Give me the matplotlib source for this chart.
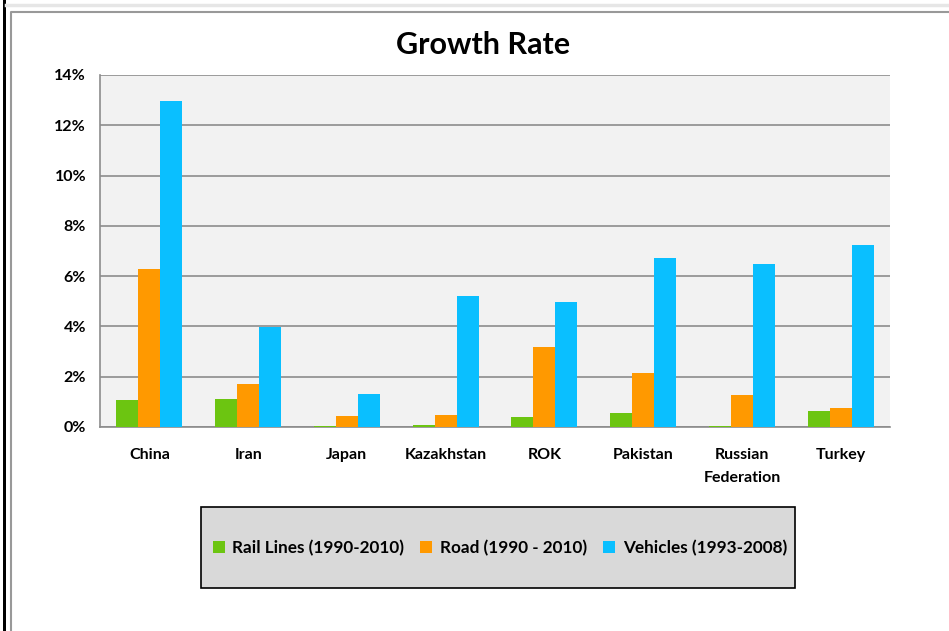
import numpy as np
import matplotlib.pyplot as plt
from matplotlib.patches import Rectangle
from matplotlib.lines import Line2D
from matplotlib.ticker import FuncFormatter

plt.rcParams['font.family'] = ['Lato', 'DejaVu Sans']

countries = ["China", "Iran", "Japan", "Kazakhstan", "ROK", "Pakistan",
             "Russian\nFederation", "Turkey"]
rail = [1.08, 1.12, 0.04, 0.08, 0.40, 0.56, 0.04, 0.64]
road = [6.28, 1.72, 0.44, 0.48, 3.18, 2.16, 1.27, 0.76]
vehicles = [12.96, 3.98, 1.32, 5.22, 4.98, 6.72, 6.48, 7.22]
series_names = ["Rail Lines (1990-2010)", "Road (1990 - 2010)", "Vehicles (1993-2008)"]
colors = ["#6CC511", "#FF9900", "#0ABFFF"]

W, H = 949, 631
fig = plt.figure(figsize=(W / 100, H / 100), dpi=100)

# page decorations around the embedded chart
fig.add_artist(Rectangle((3 / W, 0), 3 / W, 1, transform=fig.transFigure,
                         facecolor="black", edgecolor="none"))
fig.add_artist(Line2D([6 / W, 1], [1 - 5 / H, 1 - 5 / H], transform=fig.transFigure,
                      color="#E6E6E6", lw=2.5))
fig.add_artist(Line2D([11 / W, 11 / W, 1], [0, 1 - 12 / H, 1 - 12 / H],
                      transform=fig.transFigure, color="#999999", lw=1.5))

ax = fig.add_axes([100 / W, 1 - 427 / H, 790 / W, 352 / H])
ax.set_facecolor("#F2F2F2")

x = np.arange(len(countries))
w = 0.223
for i, (vals, c, name) in enumerate(zip([rail, road, vehicles], colors, series_names)):
    ax.bar(x + (i - 1) * w, vals, width=w, color=c, label=name, zorder=3)

ax.set_xlim(-0.5, len(countries) - 0.5)
ax.set_ylim(0, 14)
ax.set_yticks(np.arange(0, 15, 2))
ax.yaxis.set_major_formatter(FuncFormatter(lambda v, p: f"{v:.0f}%"))
ax.set_xticks(x)
ax.set_xticklabels(countries, fontsize=11.5, fontweight="bold", linespacing=1.8, va="top")
for lbl in ax.get_yticklabels():
    lbl.set_fontweight("bold")
    lbl.set_fontsize(11.5)
ax.tick_params(axis="both", length=0)
ax.tick_params(axis="x", pad=15)
ax.tick_params(axis="y", pad=10)
ax.grid(axis="y", color="#8C8C8C", lw=1.2, zorder=1)
ax.set_axisbelow(True)
for s in ["top", "right"]:
    ax.spines[s].set_visible(False)
for s in ["left", "bottom"]:
    ax.spines[s].set_color("#8C8C8C")
    ax.spines[s].set_linewidth(1.2)

fig.text(483 / W, 1 - 45 / H, "Growth Rate", fontsize=22, fontweight="bold",
         ha="center", va="center")

# legend box
fig.add_artist(Rectangle((201 / W, 1 - 588 / H), 594 / W, 81 / H, transform=fig.transFigure,
                         facecolor="#D9D9D9", edgecolor="black", lw=1.2))
handles, labels = ax.get_legend_handles_labels()
leg = fig.legend(handles, labels, loc="center", bbox_to_anchor=(500 / W, 1 - 548 / H),
                 ncol=3, frameon=False, handlelength=0.7, handleheight=0.7,
                 handletextpad=0.45, columnspacing=0.95,
                 prop={"weight": "bold", "size": 12.3})

fig.savefig("out.png", dpi=100)
